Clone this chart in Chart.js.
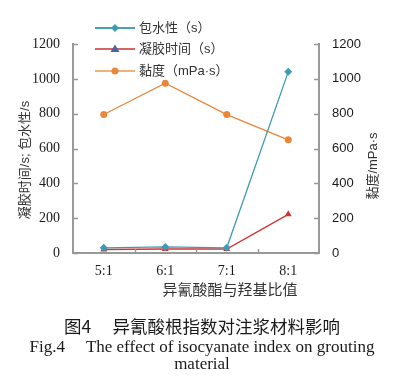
<!DOCTYPE html>
<html>
<head>
<meta charset="utf-8">
<script src="https://cdn.jsdelivr.net/npm/chart.js@4/dist/chart.umd.min.js"></script>
<style>
  html, body { margin: 0; padding: 0; background: #fff; }
  #wrap { position: relative; width: 394px; height: 377px; overflow: hidden; }
  #c { position: absolute; left: 0; top: 0; }
  .t { position: absolute; white-space: pre; color: #1a1a1a; line-height: 1; }
  #xt { left: 230px; top: 278px; transform: translateX(-50%); font: 15px "Noto Sans CJK SC", sans-serif; color: #333; }
  #cap1 { left: 202px; top: 313px; transform: translateX(-50%); font: 17.5px "Noto Sans CJK SC", sans-serif; }
  #cap2 { left: 202px; top: 337px; transform: translateX(-50%); font: 17px "Liberation Serif", serif; }
  #cap3 { left: 202px; top: 354px; transform: translateX(-50%); font: 17px "Liberation Serif", serif; }
</style>
</head>
<body>
<div id="wrap">
  <canvas id="c" width="394" height="377"></canvas>
  <div class="t" id="xt">异氰酸酯与羟基比值</div>
  <div class="t" id="cap1">图4　 异氰酸根指数对注浆材料影响</div>
  <div class="t" id="cap2">Fig.4     The effect of isocyanate index on grouting</div>
  <div class="t" id="cap3">material</div>
</div>
<script>
const categories = ['5:1', '6:1', '7:1', '8:1'];
const waterHolding = [30, 35, 30, 1040];     // 包水性 (s)
const gelTime = [20, 23, 23, 222];           // 凝胶时间 (s)
const viscosity = [795, 975, 795, 650];      // 黏度 (mPa·s)
const leftTicks = [0, 200, 400, 600, 800, 1000, 1200];
const rightTicks = [0, 200, 400, 600, 800, 1000, 1200];
const seriesNames = ['包水性（s）', '凝胶时间（s）', '黏度（mPa·s）'];
const leftTitle = '凝胶时间/s; 包水性/s';
const rightTitle = '黏度/mPa·s';

const BLUE = '#3f9bb3', RED = '#d03434', ORANGE = '#e8873a', AXIS = '#999999';
const TXTFONT = '13px "Liberation Sans", "Noto Sans CJK SC", sans-serif';

const decor = {
  id: 'decor',
  afterDraw(chart) {
    const ctx = chart.ctx;
    const {x, y, y2} = chart.scales;
    const area = chart.chartArea;
    ctx.save();
    ctx.strokeStyle = AXIS; ctx.lineWidth = 1.5;
    y.ticks.forEach(t => {
      const py = Math.round(y.getPixelForValue(t.value)) + 0.5;
      ctx.beginPath(); ctx.moveTo(area.left, py); ctx.lineTo(area.left + 5, py); ctx.stroke();
    });
    y2.ticks.forEach(t => {
      const py = Math.round(y2.getPixelForValue(t.value)) + 0.5;
      ctx.beginPath(); ctx.moveTo(area.right, py); ctx.lineTo(area.right - 5, py); ctx.stroke();
    });
    for (let i = 0; i < categories.length - 1; i++) {
      const px = Math.round((x.getPixelForValue(i) + x.getPixelForValue(i + 1)) / 2) + 0.5;
      ctx.beginPath(); ctx.moveTo(px, area.bottom); ctx.lineTo(px, area.bottom - 4); ctx.stroke();
    }
    ctx.fillStyle = '#333';
    ctx.font = TXTFONT;
    ctx.textAlign = 'center'; ctx.textBaseline = 'middle';
    ctx.save(); ctx.translate(25, 160); ctx.rotate(-Math.PI / 2); ctx.fillText(leftTitle, 0, 0); ctx.restore();
    ctx.save(); ctx.translate(373, 166); ctx.rotate(-Math.PI / 2); ctx.fillText(rightTitle, 0, 0); ctx.restore();
    const rows = [28, 49, 71];
    const lineCols = ['#4aa0b7', '#d86464', '#f0b07c'];
    const markCols = ['#3f9bb3', '#4a64a8', '#e8873a'];
    const styles = ['rectRot', 'triangle', 'circle'];
    chart.data.datasets.forEach((ds, i) => {
      const ly = rows[i];
      ctx.strokeStyle = lineCols[i]; ctx.lineWidth = 2;
      ctx.beginPath(); ctx.moveTo(95, ly); ctx.lineTo(135, ly); ctx.stroke();
      ctx.fillStyle = markCols[i];
      const mx = 115;
      ctx.beginPath();
      if (styles[i] === 'rectRot') {
        ctx.moveTo(mx, ly - 4); ctx.lineTo(mx + 4, ly); ctx.lineTo(mx, ly + 4); ctx.lineTo(mx - 4, ly);
      } else if (styles[i] === 'triangle') {
        ctx.moveTo(mx, ly - 4.5); ctx.lineTo(mx + 4.5, ly + 3); ctx.lineTo(mx - 4.5, ly + 3);
      } else {
        ctx.arc(mx, ly, 3.5, 0, Math.PI * 2);
      }
      ctx.closePath(); ctx.fill();
      ctx.fillStyle = '#333';
      ctx.textAlign = 'left';
      ctx.font = TXTFONT;
      ctx.fillText(ds.label, 139, ly);
    });
    ctx.restore();
  }
};

new Chart(document.getElementById('c'), {
  type: 'line',
  data: {
    labels: categories,
    datasets: [
      { label: seriesNames[0], data: waterHolding, yAxisID: 'y', borderColor: BLUE, backgroundColor: BLUE,
        borderWidth: 1.3, pointStyle: 'rectRot', pointRadius: 4, pointBorderWidth: 0, tension: 0 },
      { label: seriesNames[1], data: gelTime, yAxisID: 'y', borderColor: RED, backgroundColor: RED,
        borderWidth: 1.3, pointStyle: 'triangle', pointRadius: 4, pointBorderWidth: 0, tension: 0 },
      { label: seriesNames[2], data: viscosity, yAxisID: 'y2', borderColor: ORANGE, backgroundColor: ORANGE,
        borderWidth: 1.3, pointStyle: 'circle', pointRadius: 3.5, pointBorderWidth: 0, tension: 0 }
    ]
  },
  options: {
    responsive: false,
    animation: false,
    devicePixelRatio: 1,
    layout: { padding: { top: 44, left: 0, right: 0, bottom: 0 } },
    plugins: { legend: { display: false }, tooltip: { enabled: false } },
    scales: {
      x: {
        offset: true,
        grid: { display: false, drawTicks: false },
        border: { display: true, color: AXIS, width: 2 },
        ticks: { color: '#1a1a1a', font: { family: 'Liberation Serif', size: 14 }, padding: 10, maxRotation: 0 },
        afterFit(s) { s.height = 124; }
      },
      y: {
        position: 'left', min: 0, max: 1200,
        afterBuildTicks(s) { s.ticks = leftTicks.map(v => ({ value: v })); },
        grid: { display: false, drawTicks: false },
        border: { display: true, color: AXIS, width: 2 },
        ticks: { color: '#1a1a1a', font: { family: 'Liberation Serif', size: 14 }, padding: 13, callback: v => String(v) },
        afterFit(s) { s.width = 73; }
      },
      y2: {
        position: 'right', min: 0, max: 1200,
        afterBuildTicks(s) { s.ticks = rightTicks.map(v => ({ value: v })); },
        grid: { display: false, drawTicks: false },
        border: { display: true, color: AXIS, width: 2 },
        ticks: { color: '#1a1a1a', font: { family: 'Liberation Sans', size: 13 }, padding: 13, callback: v => String(v) },
        afterFit(s) { s.width = 75; }
      }
    }
  },
  plugins: [decor]
});
</script>
</body>
</html>
